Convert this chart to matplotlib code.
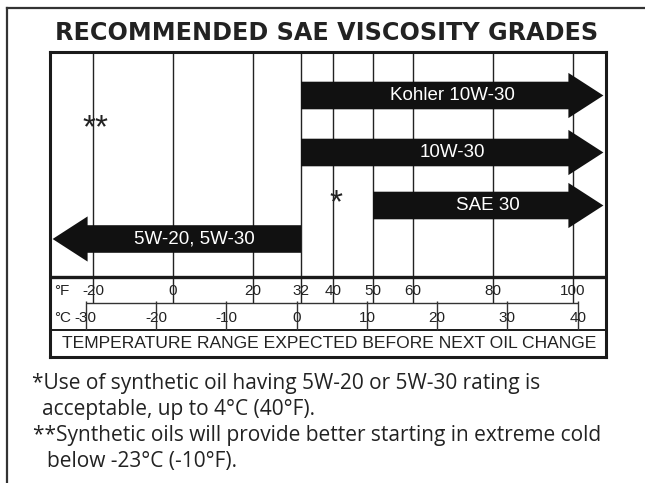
import matplotlib
matplotlib.use("Agg")
import matplotlib.pyplot as plt
from matplotlib.patches import Polygon
from matplotlib.lines import Line2D

# grades: label, start (deg F), tip (deg F)
grades = ["Kohler 10W-30", "10W-30", "SAE 30", "5W-20, 5W-30"]
grade_from = [32, 32, 50, 32]
grade_to = [107.6, 107.6, 107.6, -30.1]

f_ticks = [-20, 0, 20, 32, 40, 50, 60, 80, 100]
c_ticks = [-30, -20, -10, 0, 10, 20, 30, 40]

title = "RECOMMENDED SAE VISCOSITY GRADES"
axis_label = "TEMPERATURE RANGE EXPECTED BEFORE NEXT OIL CHANGE"
notes = ["*Use of synthetic oil having 5W-20 or 5W-30 rating is",
         "acceptable, up to 4\u00b0C (40\u00b0F).",
         "**Synthetic oils will provide better starting in extreme cold",
         "below -23\u00b0C (-10\u00b0F)."]

W, H = 645, 483


def c_pos(c):
    # celsius scale as it is printed on the card (slightly off a true conversion)
    return 30.9 + 1.757 * c


fig = plt.figure(figsize=(W / 100, H / 100), dpi=100)
fig.patch.set_facecolor("white")

# outer frame (left + top only, runs off the page)
fig.add_artist(Line2D([6.7 / W, 6.7 / W], [0, 1 - 8.3 / H], color="#333333", lw=1.6))
fig.add_artist(Line2D([6.7 / W, 1], [1 - 8.3 / H, 1 - 8.3 / H], color="#333333", lw=1.6))

fig.text(326.5 / W, 1 - 33 / H, title, ha="center", va="center",
         fontsize=17.2, fontweight="bold", family="DejaVu Sans", color="#222222")

ax = fig.add_axes([50 / W, 1 - 357 / H, 556 / W, 305 / H])
ax.set_xlim(-30.75, 108.25)
ax.set_ylim(357, 52)
ax.set_xticks([])
ax.set_yticks([])
for s in ax.spines.values():
    s.set_linewidth(2.2)
    s.set_color("#1a1a1a")

# grid lines / F ticks
ax.vlines(f_ticks, 52, 303, color="#222222", lw=1.0)
ax.hlines(277, -30.75, 108.25, color="#1a1a1a", lw=2.4)
ax.hlines(330, -30.75, 108.25, color="#1a1a1a", lw=1.4)

# celsius scale
ax.hlines(303, c_pos(c_ticks[0]), c_pos(c_ticks[-1]), color="#333333", lw=1.0)
ax.vlines([c_pos(c) for c in c_ticks], 301, 330, color="#333333", lw=1.0)

for f in f_ticks:
    ax.text(f, 291.5, str(f), ha="center", va="center", fontsize=11,
            family="Liberation Sans", color="#222222")
for c in c_ticks:
    ax.text(c_pos(c), 318, str(c), ha="center", va="center", fontsize=11,
            family="Liberation Sans", color="#222222")
ax.text(-29.6, 291.5, "\u00b0F", ha="left", va="center", fontsize=11,
        family="Liberation Sans", color="#222222")
ax.text(-29.6, 318, "\u00b0C", ha="left", va="center", fontsize=11,
        family="Liberation Sans", color="#222222")

ax.text(39, 344, axis_label, ha="center", va="center", fontsize=12.6,
        family="Liberation Sans", color="#222222")

# arrows
row_y = [95.5, 152.5, 205.5, 239]
head_len = 8.75
body_h = 13.8
head_h = 22.6
for name, x0, x1, yc in zip(grades, grade_from, grade_to, row_y):
    d = 1 if x1 > x0 else -1
    xb = x1 - d * head_len
    pts = [(x0, yc - body_h), (xb, yc - body_h), (xb, yc - head_h), (x1, yc),
           (xb, yc + head_h), (xb, yc + body_h), (x0, yc + body_h)]
    ax.add_patch(Polygon(pts, closed=True, facecolor="#111111", edgecolor="none", zorder=3))
    tx = (x0 + x1) / 2 if d > 0 else (x0 + xb) / 2
    ax.text(tx, yc, name, ha="center", va="center", color="white", fontsize=13.5,
            family="Liberation Sans", zorder=4)

# asterisks
ax.text(-19.5, 137, "**", ha="center", va="baseline", fontsize=24,
        family="Liberation Sans", color="#222222", zorder=4)
ax.text(40.7, 212, "*", ha="center", va="baseline", fontsize=24,
        family="Liberation Sans", color="#222222", zorder=4)

# footnotes
note_x = [32, 41.7, 33, 46.7]
note_y = [383, 409, 435, 461]
for t, x, y in zip(notes, note_x, note_y):
    fig.text(x / W, 1 - y / H, t, ha="left", va="center", fontsize=15,
             family="Open Sans", color="#222222")

fig.savefig("out.png", dpi=100)
